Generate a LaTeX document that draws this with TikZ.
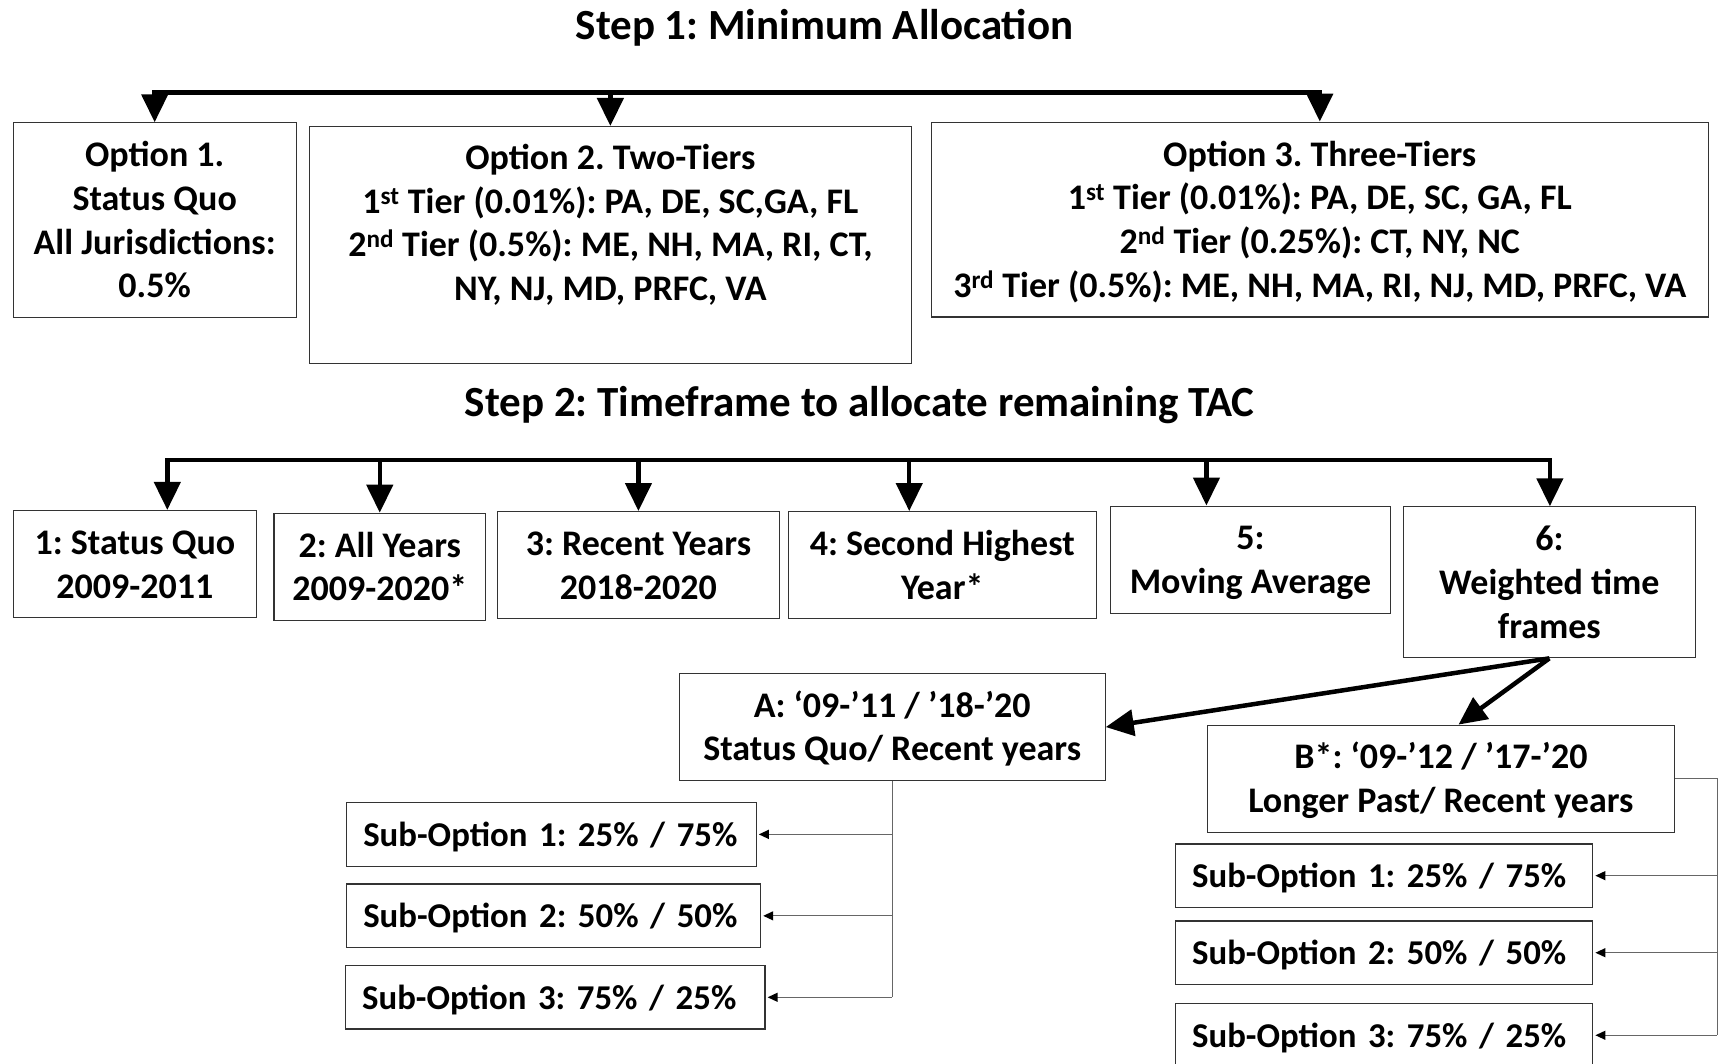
\documentclass[tikz,border=0pt]{standalone}
\usepackage{fontspec}
\setmainfont{Carlito}
\frenchspacing
\usetikzlibrary{arrows.meta,calc}
\def\U{1.1008pt}
\newcommand\mytop{\rule{0pt}{43.8pt}}
\newcommand\mybot{\rule[-19.7pt]{0pt}{19.7pt}}
\begin{document}
\begin{tikzpicture}[x=1.1008pt,y=-1.1008pt,
  box/.style={draw=black!80, line width=1.2pt, inner sep=0pt, align=center,
    font=\bfseries\fontsize{36}{43.7}\selectfont\frenchspacing},
  plain/.style={box, draw=none},
  sub/.style={box, inner xsep=15*\U, align=left,
    font=\bfseries\fontsize{34.8}{43.7}\selectfont\frenchspacing},
  ttl/.style={font=\bfseries\fontsize{43}{52}\selectfont\frenchspacing, inner sep=0pt},
  big/.style={line width=4.5pt, -{Triangle[width=26pt,length=28pt]}},
  bar/.style={line width=4.5pt, line cap=rect},
  thinl/.style={draw=black!60, line width=1.3pt},
  small/.style={draw=black!60, line width=1.3pt, shorten >=2pt,
    -{Triangle[width=9pt,length=10pt,color=black]}}
]
\path[use as bounding box] (0,0) rectangle (1568,966);
\clip (0,0) rectangle (1568,966);

% Step 1
\node[ttl] (t1) at (749,25) {Step 1: Minimum Allocation};
\node[box, minimum width=257*\U, minimum height=176*\U] (o1) at (140.5,200)
  {\mytop Option 1.\\Status Quo\\All Jurisdictions:\\0.5\%\mybot};
\node[box, minimum width=547*\U, minimum height=215*\U] (o2) at (554.5,222.5) {};
\node[plain] (o2t) at (554.5,202.5)
  {\mytop Option 2. Two-Tiers\\1\textsuperscript{st} Tier (0.01\%): PA, DE, SC,GA, FL\\2\textsuperscript{nd} Tier (0.5\%): ME, NH, MA, RI, CT,\\NY, NJ, MD, PRFC, VA\mybot};
\node[box, minimum width=706*\U, minimum height=177*\U] (o3) at (1199,199.5)
  {\mytop Option 3. Three-Tiers\\1\textsuperscript{st} Tier (0.01\%): PA, DE, SC, GA, FL\\2\textsuperscript{nd} Tier (0.25\%): CT, NY, NC\\3\textsuperscript{rd} Tier (0.5\%): ME, NH, MA, RI, NJ, MD, PRFC, VA\mybot};

\coordinate (y1) at (0,84);
\draw[bar] (o1.north |- y1) -- (o3.north |- y1);
\draw[big] (o1.north |- y1) -- (o1.north);
\draw[big] (o2.north |- y1) -- (o2.north);
\draw[big] (o3.north |- y1) -- (o3.north);

% Step 2
\node[ttl] (t2) at (781,368) {Step 2: Timeframe to allocate remaining TAC};
\node[box, minimum width=221*\U, minimum height=95*\U] (b1) at (122.5,512.5) {\mytop 1: Status Quo\\2009-2011\mybot};
\node[box, minimum width=192*\U, minimum height=96*\U] (b2) at (345,515) {\mytop 2: All Years\\2009-2020*\mybot};
\node[box, minimum width=256*\U, minimum height=95*\U] (b3) at (580,513.5) {\mytop 3: Recent Years\\2018-2020\mybot};
\node[box, minimum width=280*\U, minimum height=95*\U] (b4) at (856,513.5) {\mytop 4: Second Highest\\Year*\mybot};
\node[box, minimum width=254*\U, minimum height=95*\U] (b5) at (1136,508.5) {\mytop 5:\\Moving Average\mybot};
\node[box, minimum width=265*\U, minimum height=134*\U] (b6) at (1407.5,529) {\mytop 6:\\Weighted time\\frames\mybot};

\coordinate (r1) at (152,418);
\coordinate (r2) at (345,418);
\coordinate (r3) at (580,418);
\coordinate (r4) at (826,418);
\coordinate (r5) at (1096,418);
\coordinate (r6) at (1408,418);
\draw[bar] (r1) -- (r6);
\draw[big] (r1) -- (r1 |- b1.north);
\draw[big] (r2) -- (r2 |- b2.north);
\draw[big] (r3) -- (r3 |- b3.north);
\draw[big] (r4) -- (r4 |- b4.north);
\draw[big] (r5) -- (r5 |- b5.north);
\draw[big] (r6) -- (r6 |- b6.north);

% Weighted sub-branches
\node[box, minimum width=387*\U, minimum height=95*\U] (A) at (810.5,660.5) {\mytop A: ‘09-’11 / ’18-’20\\Status Quo/ Recent years\mybot};
\node[box, minimum width=424*\U, minimum height=95*\U] (B) at (1309,707.5) {\mytop B*: ‘09-’12 / ’17-’20\\Longer Past/ Recent years\mybot};
\draw[big] (b6.south) -- (A.east);
\draw[big] (b6.south) -- ($(B.north)+(16,0)$);

% A sub-options
\node[sub, text width=342*\U, minimum height=54*\U] (sA1) at (501,758) {\mbox{\mytop Sub-Option 1: 25\% / 75\%\mybot}};
\node[sub, text width=346*\U, minimum height=54*\U] (sA2) at (503,832) {\mbox{\mytop Sub-Option 2: 50\% / 50\%\mybot}};
\node[sub, text width=351*\U, minimum height=54*\U] (sA3) at (504.5,906) {\mbox{\mytop Sub-Option 3: 75\% / 25\%\mybot}};
\draw[thinl] (A.south) -- (A.south |- sA3.east);
\draw[small] (A.south |- sA1.east) -- (sA1.east);
\draw[small] (A.south |- sA2.east) -- (sA2.east);
\draw[small] (A.south |- sA3.east) -- (sA3.east);

% B sub-options
\node[sub, text width=349*\U, minimum height=55*\U] (sB1) at (1257.5,795.5) {\mbox{\mytop Sub-Option 1: 25\% / 75\%\mybot}};
\node[sub, text width=349*\U, minimum height=55*\U] (sB2) at (1257.5,865.5) {\mbox{\mytop Sub-Option 2: 50\% / 50\%\mybot}};
\node[sub, text width=349*\U, minimum height=55*\U] (sB3) at (1257.5,940.5) {\mbox{\mytop Sub-Option 3: 75\% / 25\%\mybot}};
\coordinate (bx) at (1560,707.5);
\draw[thinl] (B.east) -- (bx) -- (bx |- sB3.east);
\draw[small] (bx |- sB1.east) -- (sB1.east);
\draw[small] (bx |- sB2.east) -- (sB2.east);
\draw[small] (bx |- sB3.east) -- (sB3.east);
\end{tikzpicture}
\end{document}
